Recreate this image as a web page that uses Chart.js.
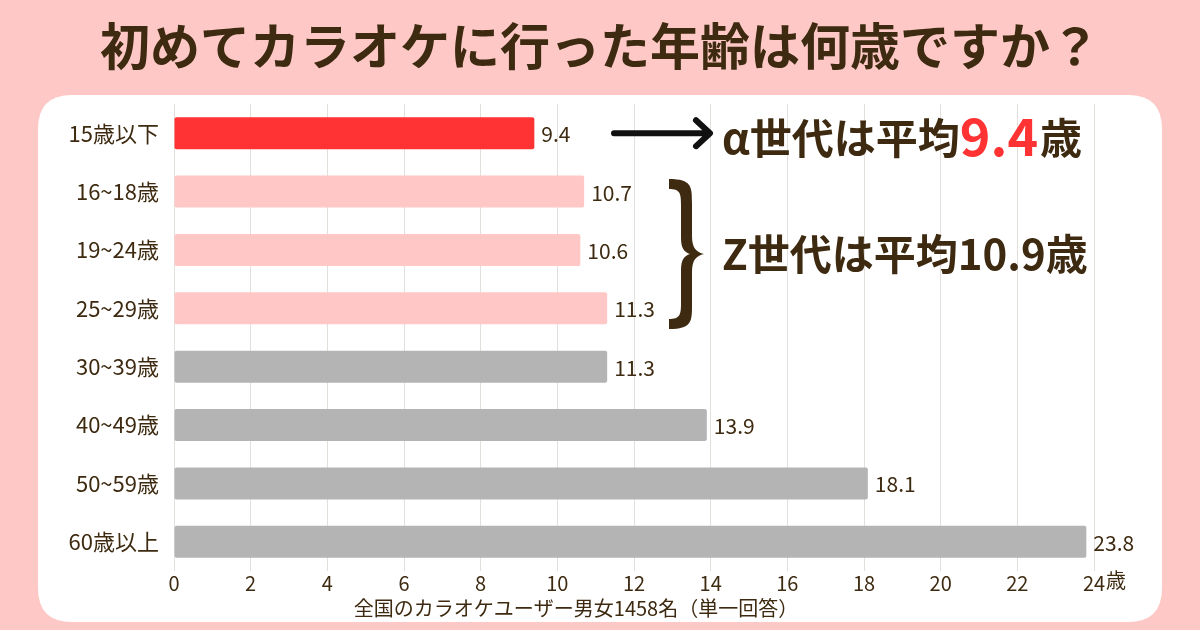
<!DOCTYPE html>
<html>
<head>
<meta charset="utf-8">
<script src="https://cdn.jsdelivr.net/npm/chart.js@4.4.1/dist/chart.umd.min.js"></script>
<style>
  html, body { margin: 0; padding: 0; background: #fdc8c5; }
  #wrap { width: 1200px; height: 630px; position: relative; }
</style>
</head>
<body>
<div id="wrap"><canvas id="karaoke-chart" width="1200" height="630"></canvas></div>
<script>
// data
var ageGroups = ["15歳以下", "16~18歳", "19~24歳", "25~29歳", "30~39歳", "40~49歳", "50~59歳", "60歳以上"];
var firstAge = [9.4, 10.7, 10.6, 11.3, 11.3, 13.9, 18.1, 23.8];
var barColors = ["#ff3333", "#ffc8c6", "#ffc8c6", "#ffc8c6", "#b4b4b4", "#b4b4b4", "#b4b4b4", "#b4b4b4"];
var xTicks = [0, 2, 4, 6, 8, 10, 12, 14, 16, 18, 20, 22, 24];

var brown = "#3d2a10";
var jp = "'Noto Sans CJK JP', 'Noto Sans', sans-serif";

function roundRect(c, x, y, w, h, r) {
  c.beginPath();
  c.moveTo(x + r, y);
  c.lineTo(x + w - r, y);
  c.quadraticCurveTo(x + w, y, x + w, y + r);
  c.lineTo(x + w, y + h - r);
  c.quadraticCurveTo(x + w, y + h, x + w - r, y + h);
  c.lineTo(x + r, y + h);
  c.quadraticCurveTo(x, y + h, x, y + h - r);
  c.lineTo(x, y + r);
  c.quadraticCurveTo(x, y, x + r, y);
  c.closePath();
}

var decor = {
  id: 'decor',
  beforeDraw: function(chart) {
    var c = chart.ctx;
    c.save();
    c.fillStyle = "#fdc8c5";
    c.fillRect(0, 0, 1200, 630);
    c.fillStyle = "#ffffff";
    roundRect(c, 38, 95, 1124, 527, 34);
    c.fill();
    // title
    c.fillStyle = brown;
    c.font = "bold 50px " + jp;
    c.textAlign = "center";
    c.textBaseline = "middle";
    c.fillText("初めてカラオケに行った年齢は何歳ですか？", 600, 46);
    c.restore();
  },
  afterDatasetsDraw: function(chart) {
    var c = chart.ctx;
    var meta = chart.getDatasetMeta(0);
    c.save();
    c.fillStyle = brown;
    c.font = "21px " + jp;
    c.textAlign = "left";
    c.textBaseline = "middle";
    meta.data.forEach(function(bar, i) {
      c.fillText(firstAge[i].toFixed(1), bar.x + 7, bar.y + 1);
    });

    // unit after the last tick
    var xs = chart.scales.x;
    var px24 = xs.getPixelForValue(24);
    c.font = "20px " + jp;
    c.fillText("歳", px24 + 12, 580);

    // axis note
    c.textAlign = "center";
    c.font = "20px " + jp;
    c.fillText("全国のカラオケユーザー男女1458名（単一回答）", 576, 608);

    // arrow
    var yA = meta.data[0].y;
    c.strokeStyle = "#111111";
    c.lineWidth = 6;
    c.lineCap = "round";
    c.lineJoin = "round";
    c.beginPath();
    c.moveTo(614, yA);
    c.lineTo(708, yA);
    c.moveTo(696, yA - 13);
    c.lineTo(710, yA);
    c.lineTo(696, yA + 13);
    c.stroke();

    // brace
    var top = 179, bot = 329, mid = (top + bot) / 2;
    c.fillStyle = brown;
    c.beginPath();
    c.moveTo(669, top);
    c.bezierCurveTo(692, top, 692, top + 8, 692, top + 24);
    c.lineTo(692, mid - 18);
    c.bezierCurveTo(692, mid - 6, 696, mid - 2, 704, mid);
    c.bezierCurveTo(696, mid + 2, 692, mid + 6, 692, mid + 18);
    c.lineTo(692, bot - 24);
    c.bezierCurveTo(692, bot - 8, 692, bot, 669, bot);
    c.lineTo(669, bot - 10);
    c.bezierCurveTo(680, bot - 10, 681, bot - 14, 681, bot - 26);
    c.lineTo(681, mid + 16);
    c.bezierCurveTo(681, mid + 6, 684, mid + 2, 690, mid);
    c.bezierCurveTo(684, mid - 2, 681, mid - 6, 681, mid - 16);
    c.lineTo(681, top + 26);
    c.bezierCurveTo(681, top + 14, 680, top + 10, 669, top + 10);
    c.closePath();
    c.fill();

    // callouts
    c.textAlign = "left";
    c.textBaseline = "middle";
    var x = 722;
    c.font = "bold 42px " + jp;
    c.fillStyle = brown;
    c.fillText("α世代は平均", x, 138);
    x += c.measureText("α世代は平均").width;
    c.font = "bold 52px " + jp;
    c.fillStyle = "#ff3333";
    c.fillText("9.4", x, 136);
    x += c.measureText("9.4").width + 2;
    c.font = "bold 42px " + jp;
    c.fillStyle = brown;
    c.fillText("歳", x, 138);

    c.fillText("Z世代は平均10.9歳", 722, 254);
    c.restore();
  }
};

var myChart = new Chart(document.getElementById("karaoke-chart"), {
  type: 'bar',
  data: {
    labels: ageGroups,
    datasets: [
      {
        label: "初めてカラオケに行った年齢",
        backgroundColor: barColors,
        data: firstAge,
        barPercentage: 0.55,
        categoryPercentage: 1.0,
        borderRadius: 2,
        borderSkipped: false
      }
    ]
  },
  options: {
    indexAxis: 'y',
    responsive: false,
    animation: false,
    layout: { padding: { left: 40, right: 106, top: 104, bottom: 29 } },
    plugins: {
      legend: { display: false },
      tooltip: { enabled: false },
      title: { display: false }
    },
    scales: {
      x: {
        min: 0,
        max: 24,
        afterBuildTicks: function(scale) {
          scale.ticks = xTicks.map(function(v) { return { value: v }; });
        },
        afterFit: function(scale) { scale.height = 30; },
        grid: { color: "#e3e0dc", lineWidth: 1, drawTicks: false },
        border: { display: false },
        ticks: {
          color: brown,
          font: { family: jp, size: 20 },
          padding: 0
        }
      },
      y: {
        afterFit: function(scale) { scale.width = 134; },
        grid: { display: false },
        border: { display: false },
        ticks: {
          color: brown,
          font: { family: jp, size: 22 },
          padding: 7
        }
      }
    }
  },
  plugins: [decor]
});
</script>
</body>
</html>
